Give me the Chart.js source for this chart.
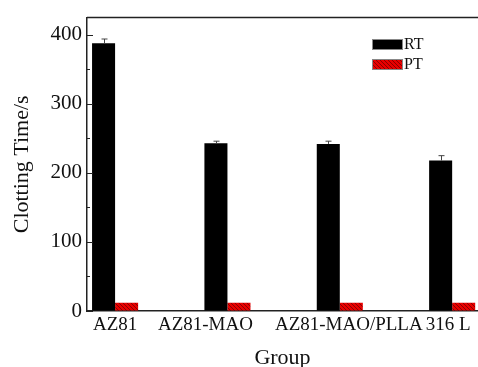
<!DOCTYPE html>
<html>
<head>
<meta charset="utf-8">
<script src="https://cdn.jsdelivr.net/npm/chart.js@4.4.1/dist/chart.umd.min.js"></script>
<style>
  html, body { margin: 0; padding: 0; background: #fff; }
  #wrap { width: 478px; height: 367px; }
</style>
</head>
<body>
<div id="wrap"><canvas id="graph"></canvas></div>
<script>
// data
var groups = ['AZ81', 'AZ81-MAO', 'AZ81-MAO/PLLA', '316 L'];
var rtValues = [388, 243, 242, 218];
var rtErrors = [6, 3, 4, 7];
var ptValues = [12, 12, 12, 12];
var yTickLabels = [0, 100, 200, 300, 400];

var serif = "'Liberation Serif', 'Times New Roman', serif";

// red hatch for PT
function hatch() {
  var c = document.createElement('canvas');
  c.width = 4; c.height = 4;
  var g = c.getContext('2d');
  g.fillStyle = '#e80000';
  g.fillRect(0, 0, 4, 4);
  g.strokeStyle = '#8a0000';
  g.lineWidth = 1;
  g.beginPath();
  g.moveTo(0, 0); g.lineTo(4, 4);
  g.moveTo(-1, 3); g.lineTo(1, 5);
  g.moveTo(3, -1); g.lineTo(5, 1);
  g.stroke();
  return g.createPattern(c, 'repeat');
}
var ptFill = hatch();

// extra drawing: inward ticks, top frame line, error bars, labels, legend
var extras = {
  id: 'extras',
  afterDraw: function(chart) {
    var ctx = chart.ctx;
    var area = chart.chartArea;
    var x = chart.scales.x, y = chart.scales.y;
    ctx.save();

    // top frame line
    ctx.strokeStyle = '#222';
    ctx.lineWidth = 1.5;
    ctx.beginPath();
    ctx.moveTo(area.left, area.top);
    ctx.lineTo(area.right, area.top);
    ctx.stroke();

    // inward y ticks
    ctx.lineWidth = 1;
    y.ticks.forEach(function(t) {
      if (t.value >= y.max) return;
      var py = Math.round(y.getPixelForValue(t.value)) + 0.5;
      var len = t.value % 100 === 0 ? 6 : 3;
      ctx.beginPath();
      ctx.moveTo(area.left, py);
      ctx.lineTo(area.left + len, py);
      ctx.stroke();
    });

    // error bars on RT
    var meta = chart.getDatasetMeta(0);
    ctx.strokeStyle = '#444';
    ctx.lineWidth = 1;
    meta.data.forEach(function(bar, i) {
      var top = y.getPixelForValue(rtValues[i]);
      var hi = y.getPixelForValue(rtValues[i] + rtErrors[i]);
      var bx = Math.round(bar.x) + 0.5;
      ctx.beginPath();
      ctx.moveTo(bx, top);
      ctx.lineTo(bx, hi);
      ctx.moveTo(bx - 3, hi);
      ctx.lineTo(bx + 3, hi);
      ctx.stroke();
    });

    // category labels
    var nudge = [0, -22, 9, -4];
    ctx.fillStyle = '#111';
    ctx.font = '19px ' + serif;
    ctx.textAlign = 'center';
    ctx.textBaseline = 'top';
    groups.forEach(function(g, i) {
      ctx.fillText(g, x.getPixelForValue(i + 1) + nudge[i], x.top + 5);
    });

    // legend
    var lx = 372, ly = 39;
    chart.data.datasets.forEach(function(ds, i) {
      var by = ly + i * 20;
      ctx.fillStyle = ds.backgroundColor;
      ctx.fillRect(lx, by, 31, 11);
      ctx.strokeStyle = '#888';
      ctx.strokeRect(lx + 0.5, by + 0.5, 30, 10);
      ctx.fillStyle = '#111';
      ctx.font = '16px ' + serif;
      ctx.textAlign = 'left';
      ctx.textBaseline = 'middle';
      ctx.fillText(ds.label, lx + 32, by + 6);
    });

    ctx.restore();
  }
};

var ctx = document.getElementById('graph').getContext('2d');
var myChart = new Chart(ctx, {
  type: 'bar',
  data: {
    datasets: [{
      label: 'RT',
      data: groups.map(function(g, i) { return { x: i + 1, y: rtValues[i] }; }),
      backgroundColor: '#000000',
      borderWidth: 0
    },
    {
      label: 'PT',
      data: groups.map(function(g, i) { return { x: i + 1, y: ptValues[i] }; }),
      backgroundColor: ptFill,
      borderWidth: 0
    }]
  },
  options: {
    responsive: true,
    maintainAspectRatio: false,
    animation: false,
    layout: { padding: { left: 0, top: 13, right: 0, bottom: 0 } },
    categoryPercentage: 0.41,
    barPercentage: 1,
    plugins: {
      legend: { display: false },
      tooltip: { enabled: false }
    },
    scales: {
      x: {
        type: 'linear',
        offset: false,
        min: 0.75,
        max: 4.23,
        afterFit: function(s) { s.height = 56; },
        afterBuildTicks: function(s) {
          s.ticks = groups.map(function(g, i) { return { value: i + 1 }; });
        },
        grid: { display: true, drawOnChartArea: false, drawTicks: false },
        border: { display: true, color: '#222', width: 1.5 },
        ticks: { display: false },
        title: {
          display: true,
          text: 'Group',
          color: '#111',
          font: { family: serif, size: 22, lineHeight: 0.8 },
          padding: { top: 0, bottom: 0 }
        }
      },
      y: {
        min: 0,
        max: 425,
        afterFit: function(s) { s.width = 87; },
        grid: { display: true, drawOnChartArea: false, drawTicks: false },
        border: { display: true, color: '#222', width: 1.5 },
        ticks: {
          stepSize: 25,
          padding: 5,
          color: '#111',
          font: { family: serif, size: 21 },
          callback: function(v) { return yTickLabels.indexOf(v) >= 0 ? v : ''; }
        },
        title: {
          display: true,
          text: 'Clotting Time/s',
          color: '#111',
          font: { family: serif, size: 22 },
          padding: { top: 9, bottom: 0 }
        }
      }
    }
  },
  plugins: [extras]
});
</script>
</body>
</html>
